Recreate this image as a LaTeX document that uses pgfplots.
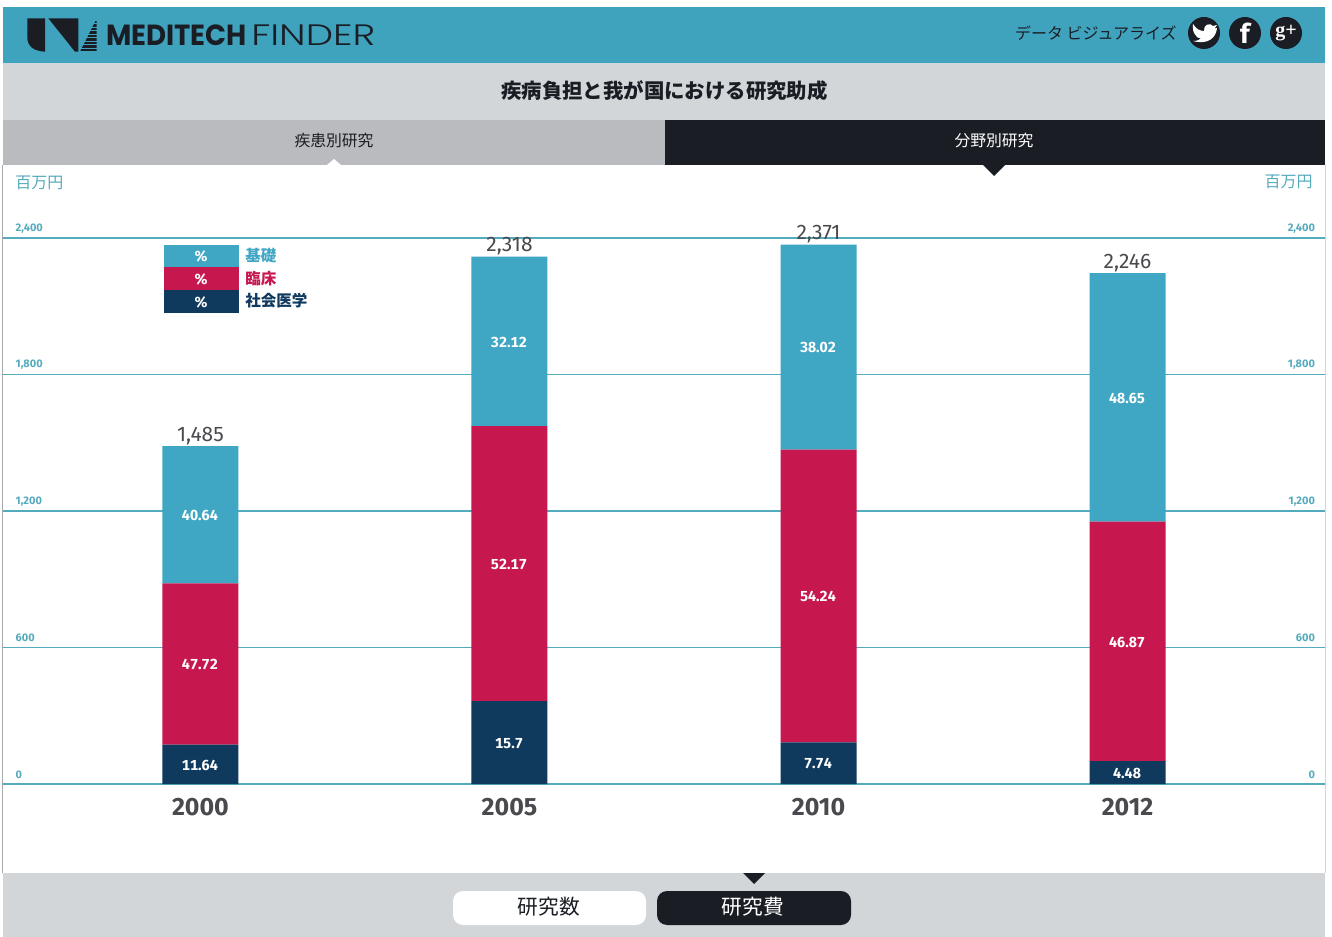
\documentclass[border=0pt]{standalone}
\usepackage{pgfplots}
\usepackage{pgfplotstable}
\usepackage{fontspec}
\pgfplotsset{compat=1.18}
\setmainfont{Noto Sans CJK JP}
\newfontfamily\numf{Fira Sans}
\newfontfamily\numt[Numbers=Monospaced]{Fira Sans}
\newfontfamily\logof{Poppins}
\newfontfamily\logol{Poppins Light}
\newfontfamily\serf{Liberation Serif}
\definecolor{hdr}{HTML}{40A3BE}
\definecolor{bargrey}{HTML}{D2D6D9}
\definecolor{tabgrey}{HTML}{B9BBBE}
\definecolor{ink}{HTML}{1A1E24}
\definecolor{tealb}{HTML}{3FA6C3}
\definecolor{crim}{HTML}{C7174F}
\definecolor{navy}{HTML}{0F3A5E}
\definecolor{gridc}{HTML}{55ABBE}
\definecolor{numc}{HTML}{4A4A4E}
\newcommand{\pxs}[1]{\fontsize{\fpeval{0.75*#1}pt}{\fpeval{0.9*#1}pt}\selectfont}
\pgfplotstableread{
x shakai rinsho kiso
0 172.9 708.6 603.5
1 363.9 1209.3 744.8
2 183.5 1286.0 901.5
3 100.6 1052.7 1092.7
}\bars
\pgfplotstableread{
x y lab
0 86.5 11.64
1 182.0 15.7
2 91.8 7.74
3 50.3 4.48
0 527.2 47.72
1 968.6 52.17
2 826.5 54.24
3 627.0 46.87
0 1183.3 40.64
1 1945.5 32.12
2 1920.3 38.02
3 1699.7 48.65
}\seglabels
\pgfplotstableread[col sep=semicolon]{
x;y;lab
0;1485;1,485
1;2318;2,318
2;2371;2,371
3;2246;2,246
}\totals
\begin{document}
\begin{tikzpicture}
\begin{scope}[x=0.75pt,y=-0.75pt]
\path[use as bounding box] (0,0) rectangle (1332,937);
\fill[white] (0,0) rectangle (1332,937);
% frame
\fill[hdr] (3,7) rectangle (1325,63);
\fill[bargrey] (3,63) rectangle (1325,120);
\fill[tabgrey] (3,120) rectangle (665,165);
\fill[ink] (665,120) rectangle (1325,165);
\fill[white] (327,165) -- (334,159) -- (341,165) -- cycle;
\fill[ink] (983,165) -- (1005,165) -- (994,176) -- cycle;
\fill[bargrey] (3,873) rectangle (1325,937);
\fill[ink] (743,873) -- (765,873) -- (754,884) -- cycle;
\draw[bargrey!80!black,line width=0.6pt] (2.5,165) -- (2.5,873);
\draw[bargrey,line width=0.6pt] (1325,165) -- (1325,873);
% logo
\fill[ink] (27.3,18.3) -- (45,18.3) -- (45,51.7) .. controls (33,51) and (27.3,46) .. (27.3,37) -- cycle;
\fill[ink] (48.3,18.3) -- (78.3,18.3) -- (78.3,51.7) -- (75,51.7) -- cycle;
\begin{scope}
\clip (80,51.7) -- (96.5,51.7) -- (96.5,19) -- cycle;
\foreach \yy in {21,24.5,28,31.5,35,38.5,42,45.5,49}{\fill[ink] (78,\yy) rectangle (98,\yy+2.2);}
\end{scope}
\node[anchor=south west,inner sep=0pt,text=ink] at (106,45.5) {\resizebox{105.5pt}{15.5pt}{\logof\bfseries MEDITECH}};
\node[anchor=south west,inner sep=0pt,text=ink] at (251,45.5) {\resizebox{93pt}{15.5pt}{\logol FINDER}};
% header right
\node[anchor=east,inner sep=0pt,text=ink] at (1177,33) {\pxs{16}データ ビジュアライズ};
\foreach \cx in {1204,1245,1286}{\fill[ink] (\cx,33) circle[radius=12pt];}
\fill[white] (1193,24) .. controls (1196,29) and (1200,31) .. (1204,31)
  .. controls (1203,25) and (1210,22) .. (1213,26) -- (1217,25) -- (1214.5,28.5) -- (1217,28)
  .. controls (1216,38) and (1208,45) .. (1193,41)
  .. controls (1197,41) and (1199,40) .. (1201,38.5)
  .. controls (1197,38) and (1196,36) .. (1195.5,35)
  .. controls (1193.5,33) and (1192.5,30) .. (1193,24) -- cycle;
\node[text=white,inner sep=0pt] at (1245,33) {\pxs{27}\numf\bfseries f};
\node[text=white,inner sep=0pt] at (1286,33) {\pxs{20}\serf\bfseries g+};
% titles
\node[text=ink,inner sep=0pt] at (664.5,91) {\pxs{20.4}\bfseries 疾病負担と我が国における研究助成};
\node[text=ink,inner sep=0pt] at (334,141) {\pxs{15.8}疾患別研究};
\node[text=white,inner sep=0pt] at (994,141) {\pxs{15.8}分野別研究};
\node[text=gridc,inner sep=0pt,anchor=west] at (15,182.5) {\pxs{16}百万円};
\node[text=gridc,inner sep=0pt,anchor=east] at (1313,182) {\pxs{16}百万円};
% buttons
\fill[white,rounded corners=7.5pt] (453,891) rectangle (646,925);
\fill[ink,rounded corners=7.5pt] (657,891) rectangle (851,925);
\node[text=ink,inner sep=0pt] at (549,907) {\pxs{20.7}研究数};
\node[text=white,inner sep=0pt] at (753,907) {\pxs{20.7}研究費};
\end{scope}
% bars
\begin{axis}[
  at={(2.25pt,-588pt)},anchor=south west,scale only axis,
  width=991.5pt,height=409.5pt,
  xmin=-0.639,xmax=3.639,ymin=0,ymax=2400,
  ybar stacked,bar width=57pt,
  axis x line*=bottom,axis y line*=left,
  axis line style={draw=none},
  ymajorgrids,grid style={gridc,line width=1pt},
  major tick length=0pt,
  xtick={0,1,2,3},xticklabels={2000,2005,2010,2012},
  xticklabel style={font={\numf\bfseries\pxs{25}},text=numc,anchor=center,yshift=-17pt},
  ytick={0,600,1200,1800,2400},
  yticklabels={0,600,{1,200},{1,800},{2,400}},
  yticklabel style={font={\numf\bfseries\pxs{11}},text=gridc,anchor=west,xshift=6pt,yshift=7pt},
]
\addplot[fill=navy,draw=none] table[x=x,y=shakai]{\bars};
\addplot[fill=crim,draw=none] table[x=x,y=rinsho]{\bars};
\addplot[fill=tealb,draw=none] table[x=x,y=kiso]{\bars};
\end{axis}
% labels and right-hand scale
\begin{axis}[
  at={(2.25pt,-588pt)},anchor=south west,scale only axis,
  width=991.5pt,height=409.5pt,
  xmin=-0.639,xmax=3.639,ymin=0,ymax=2400,
  axis x line=none,axis y line*=right,
  axis line style={draw=none},
  major tick length=0pt,clip=false,
  ytick={0,600,1200,1800,2400},
  yticklabels={0,600,{1,200},{1,800},{2,400}},
  yticklabel style={font={\numf\bfseries\pxs{11}},text=gridc,anchor=east,xshift=-4pt,yshift=7pt},
]
\addplot[only marks,mark=none,nodes near coords,point meta=explicit symbolic,
  every node near coord/.style={anchor=center,inner sep=0pt,text=white,xshift=-0.4pt,yshift=-0.6pt,font={\numt\bfseries\pxs{14.5}}}]
  table[x=x,y=y,meta=lab]{\seglabels};
\addplot[only marks,mark=none,nodes near coords,point meta=explicit symbolic,
  every node near coord/.style={anchor=center,inner sep=0pt,text=numc,yshift=7.6pt,font={\numf\pxs{21}}}]
  table[x=x,y=y,meta=lab]{\totals};
\end{axis}
% legend
\begin{scope}[x=0.75pt,y=-0.75pt]
\fill[tealb] (164,245) rectangle (239,267.5);
\fill[crim] (164,267.5) rectangle (239,290);
\fill[navy] (164,290) rectangle (239,313);
\node[text=white,inner sep=0pt] at (201,256.5) {\pxs{15}\numf\bfseries \%};
\node[text=white,inner sep=0pt] at (201,279) {\pxs{15}\numf\bfseries \%};
\node[text=white,inner sep=0pt] at (201,302) {\pxs{15}\numf\bfseries \%};
\node[text=tealb,inner sep=0pt,anchor=west] at (245,256) {\pxs{15.5}\bfseries 基礎};
\node[text=crim,inner sep=0pt,anchor=west] at (245,278.5) {\pxs{15.5}\bfseries 臨床};
\node[text=navy,inner sep=0pt,anchor=west] at (245,301) {\pxs{15.5}\bfseries 社会医学};
\end{scope}
\end{tikzpicture}
\end{document}
